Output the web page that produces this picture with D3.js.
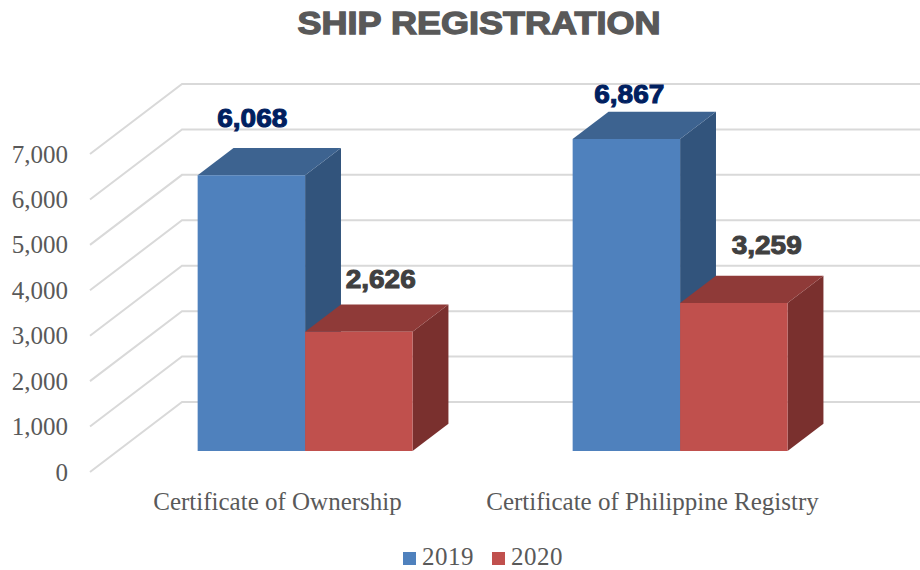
<!DOCTYPE html>
<html>
<head>
<meta charset="utf-8">
<script src="https://cdn.jsdelivr.net/npm/d3@7"></script>
<style>
  html, body { margin: 0; padding: 0; background: #fff; }
  .axis-text { font-family: "Liberation Serif", serif; font-size: 25px; fill: #595959; }
  .data-label { font-family: "Liberation Sans", Arial, sans-serif; font-size: 25px; font-weight: bold; stroke-width: 1px; }
</style>
</head>
<body>
<div id="chart"></div>
<script>
const categories = ["Certificate of Ownership", "Certificate of Philippine Registry"];
const seriesNames = ["2019", "2020"];
const values2019 = [6068, 6867];
const values2020 = [2626, 3259];
const yTicks = [0, 1000, 2000, 3000, 4000, 5000, 6000, 7000];

const width = 920, height = 570;

const svg = d3.select("#chart").append("svg")
    .attr("width", width)
    .attr("height", height)
    .style("display", "block");

// front edge of the floor, the value axis stands on it
const x0 = d3.scaleBand().domain(categories).range([90, 840]);
const x1 = d3.scaleBand().domain(seriesNames)
    .range([0, x0.bandwidth()])
    .paddingOuter(0.745)
    .paddingInner(0);
const y = d3.scaleLinear().domain([0, 7000]).range([472, 154]);

// oblique depth: 0 = front of floor, 1 = back wall
const depthX = d3.scaleLinear().domain([0, 1]).range([0, 92]);
const depthY = d3.scaleLinear().domain([0, 1]).range([0, -70]);
const barFront = 0.3, barBack = 0.69;

function pt(x, v, d) {
  return [x + depthX(d), y(v) + depthY(d)];
}
const poly = d3.line();

const color = d3.scaleOrdinal().domain(seriesNames).range(["#4f81bd", "#c0504d"]);
const topColor = d3.scaleOrdinal().domain(seriesNames).range(["#3d6390", "#8f3a38"]);
const sideColor = d3.scaleOrdinal().domain(seriesNames).range(["#32547c", "#7a302e"]);
const labelColor = d3.scaleOrdinal().domain(seriesNames).range(["#002060", "#404040"]);

// hand placed data labels, offset from the middle of the bar's back top edge
const labelShift = {
  "2019": [[-35, -21], [-33, -9]],
  "2020": [[-14, -16], [-3, -22]]
};

// title
svg.append("text")
    .attr("x", 479)
    .attr("y", 34)
    .attr("text-anchor", "middle")
    .attr("font-family", '"Liberation Sans", Arial, sans-serif')
    .attr("font-size", "32px")
    .attr("font-weight", "bold")
    .attr("fill", "#595959")
    .attr("stroke", "#595959")
    .attr("stroke-width", 1.3)
    .attr("textLength", 363)
    .attr("lengthAdjust", "spacingAndGlyphs")
    .text("SHIP REGISTRATION");

// gridlines: side wall then back wall
const wallEnd = x0.range()[1] + depthX(1) + 10;
const grid = svg.append("g").attr("fill", "none").attr("stroke", "#d9d9d9").attr("stroke-width", 2);
grid.selectAll("path")
    .data(yTicks)
    .join("path")
    .attr("d", d => poly([
      pt(x0.range()[0], d, 0),
      pt(x0.range()[0], d, 1),
      [wallEnd, pt(x0.range()[0], d, 1)[1]]
    ]));

// value axis
const yAxis = svg.append("g")
    .attr("transform", "translate(74,0)")
    .call(d3.axisLeft(y).tickValues(yTicks).tickFormat(d3.format(",")).tickSize(0).tickPadding(6));
yAxis.select(".domain").remove();
yAxis.selectAll("text").attr("class", "axis-text").attr("font-family", null).attr("font-size", null).attr("fill", null);

// bars, 2019 drawn first so the 2020 top sits on its side face
const bars = [];
seriesNames.forEach((s, si) => {
  const vals = si === 0 ? values2019 : values2020;
  categories.forEach((c, ci) => bars.push({ cat: c, catIndex: ci, series: s, value: vals[ci] }));
});

const barG = svg.selectAll("g.bar")
    .data(bars)
    .join("g")
    .attr("class", "bar");

barG.each(function(d) {
  const g = d3.select(this);
  const xl = x0(d.cat) + x1(d.series);
  const xr = xl + x1.bandwidth();
  g.append("path")
      .attr("fill", sideColor(d.series))
      .attr("d", poly([pt(xr, 0, barFront), pt(xr, 0, barBack), pt(xr, d.value, barBack), pt(xr, d.value, barFront)]) + "Z");
  g.append("path")
      .attr("fill", topColor(d.series))
      .attr("d", poly([pt(xl, d.value, barFront), pt(xl, d.value, barBack), pt(xr, d.value, barBack), pt(xr, d.value, barFront)]) + "Z");
  g.append("path")
      .attr("fill", color(d.series))
      .attr("d", poly([pt(xl, 0, barFront), pt(xr, 0, barFront), pt(xr, d.value, barFront), pt(xl, d.value, barFront)]) + "Z");
});

// labels go on top of every bar face
svg.selectAll("text.data-label")
    .data(bars)
    .join("text")
    .attr("class", "data-label")
    .attr("x", d => pt(x0(d.cat) + x1(d.series) + x1.bandwidth() / 2, d.value, barBack)[0] + labelShift[d.series][d.catIndex][0])
    .attr("y", d => pt(0, d.value, barBack)[1] + labelShift[d.series][d.catIndex][1])
    .attr("text-anchor", "middle")
    .attr("fill", d => labelColor(d.series))
    .attr("stroke", d => labelColor(d.series))
    .attr("textLength", 70)
    .attr("lengthAdjust", "spacingAndGlyphs")
    .text(d => d3.format(",")(d.value));

// category labels
const xAxis = svg.append("g")
    .attr("transform", "translate(0,492)")
    .call(d3.axisBottom(x0).tickSize(0).tickPadding(0));
xAxis.select(".domain").remove();
xAxis.selectAll("text").attr("class", "axis-text").attr("font-family", null).attr("font-size", null).attr("fill", null);

// legend
const legendX = d3.scaleOrdinal().domain(seriesNames).range([403, 492]);
const legend = svg.selectAll("g.legend")
    .data(seriesNames)
    .join("g")
    .attr("class", "legend")
    .attr("transform", d => "translate(" + legendX(d) + ",552)");
legend.append("rect").attr("width", 13).attr("height", 13).attr("fill", d => color(d));
legend.append("text")
    .attr("class", "axis-text")
    .attr("x", 19)
    .attr("y", 12.5)
    .attr("letter-spacing", 0.5)
    .text(d => d);
</script>
</body>
</html>
